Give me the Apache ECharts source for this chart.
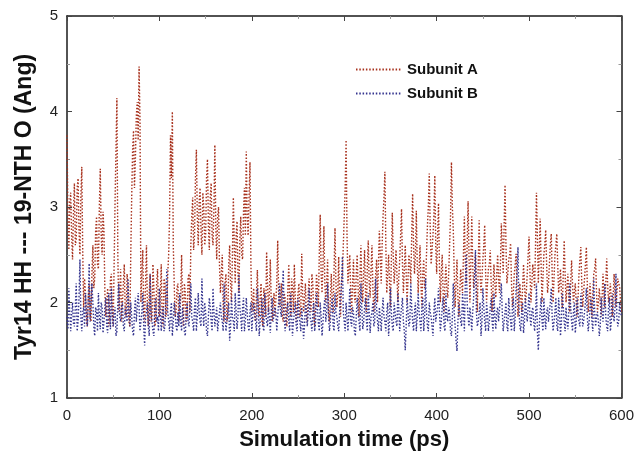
<!DOCTYPE html>
<html>
<head>
<meta charset="utf-8">
<script src="https://cdn.jsdelivr.net/npm/echarts@6/dist/echarts.min.js"></script>
<style>
html,body{margin:0;padding:0;background:#fff;}
#c{width:637px;height:456px;}
</style>
</head>
<body>
<div id="c"></div>
<script>
// sampling step of the trajectory (ps)
const timeStep = 1;
const xTicks = [0, 100, 200, 300, 400, 500, 600];
const yTicks = [1, 2, 3, 4, 5];
const seriesNames = ['Subunit A', 'Subunit B'];

// Subunit A distances (Ang), t = 0, 1, 2 ... 600 ps
const subunitA = [
3.75,2.9,2.55,3.05,3.15,2.7,2.45,2.95,3.25,2.6,2.65,3.2,3.3,2.75,2.5,3.1,3.42,2.55,1.95,2.25,
2.1,1.8,1.75,2.05,2.2,1.85,1.8,2.3,2.6,2.15,2.25,2.75,2.9,2.4,2.35,3.0,3.4,2.7,2.5,2.95,
2.75,2.1,1.85,2.0,2.15,1.75,1.8,2.25,2.3,1.9,1.75,2.4,3.05,3.6,4.14,2.5,1.9,2.1,2.35,1.8,
1.8,2.2,2.4,1.9,1.85,2.3,2.2,1.8,1.75,2.5,3.1,3.6,3.8,3.2,3.5,3.95,4.1,3.7,4.47,3.9,
2.0,2.3,2.55,1.9,1.8,2.2,2.6,1.95,1.75,2.1,2.3,1.8,1.85,2.4,2.15,1.75,1.8,2.2,2.35,1.9,
1.85,2.1,2.4,1.8,1.75,2.25,2.2,1.85,1.9,2.3,2.5,2.9,3.75,3.3,4.0,2.6,2.2,1.85,1.9,2.15,
2.2,1.8,1.8,2.05,2.5,2.0,1.75,2.2,2.1,1.8,1.85,2.25,2.3,1.9,2.6,2.9,3.1,2.55,2.7,3.3,
3.6,2.9,2.6,3.05,3.2,2.75,2.5,3.15,3.0,2.6,2.7,3.3,3.5,2.8,2.55,3.1,3.25,2.7,2.6,3.0,
3.65,2.8,2.45,2.9,3.0,2.4,2.1,2.3,2.5,1.95,1.8,2.2,2.3,1.8,1.85,2.4,2.6,2.2,2.0,2.5,
3.1,2.6,2.2,2.7,2.85,2.3,2.1,2.65,2.9,2.5,2.45,2.95,3.2,2.7,3.58,2.9,2.7,3.1,3.47,2.4,
1.9,2.0,2.15,1.85,1.8,2.1,2.34,1.95,1.85,2.05,2.2,1.8,1.75,2.15,2.05,1.85,2.53,2.2,1.9,2.1,
2.45,2.0,1.8,1.95,2.1,1.85,1.85,2.2,2.65,2.1,1.95,2.05,2.2,1.85,1.8,2.1,2.05,1.8,1.75,2.15,
2.4,2.0,1.85,2.25,2.15,1.9,2.4,2.05,1.8,1.95,2.1,2.2,1.85,1.9,2.51,2.1,1.9,2.05,2.2,1.85,
1.8,2.1,2.25,1.95,1.9,2.3,2.2,1.85,1.75,2.0,2.3,2.15,1.95,2.5,2.92,2.3,2.1,2.4,2.8,2.2,
2.0,2.2,2.45,1.9,1.8,2.05,2.3,2.0,1.9,2.35,2.78,2.2,1.95,2.1,2.48,2.0,1.85,2.2,2.3,2.6,
2.6,3.2,3.7,2.7,2.2,2.35,2.5,2.1,1.9,2.2,2.45,2.05,2.0,2.3,2.5,2.15,1.85,2.25,2.6,2.2,
2.0,2.3,2.55,2.1,1.9,2.4,2.65,2.2,2.05,2.35,2.6,2.15,1.9,2.1,2.3,2.45,2.0,2.4,2.75,2.5,
2.2,2.6,2.9,3.1,3.37,2.6,2.1,2.3,2.5,2.2,1.95,2.45,2.94,2.5,2.2,2.35,2.55,2.3,2.0,2.25,
2.45,2.7,2.98,2.4,2.1,2.35,2.6,2.3,2.0,2.25,2.5,2.4,2.2,2.7,3.14,2.6,2.3,2.5,2.96,2.4,
2.1,2.35,2.6,2.2,1.95,2.3,2.45,2.15,2.2,2.5,2.8,3.0,3.35,2.8,2.4,2.55,2.7,2.9,3.33,2.6,
2.3,2.7,3.04,2.4,2.0,2.3,2.5,2.1,1.9,2.2,2.4,2.15,2.05,2.3,2.6,2.9,3.47,3.0,2.76,2.3,
1.95,2.2,2.45,2.05,1.85,2.1,2.35,2.2,2.1,2.5,2.9,2.4,2.2,2.6,3.06,2.5,2.0,2.4,2.9,2.4,
2.15,2.3,2.5,2.2,1.9,2.4,2.86,2.3,2.1,2.25,2.45,2.6,2.81,2.3,2.0,2.2,2.35,2.4,2.55,2.2,
1.9,2.15,2.4,2.2,2.05,2.3,2.5,2.25,2.1,2.4,2.83,2.6,2.3,2.8,3.23,2.6,2.2,2.3,2.45,2.5,
2.62,2.2,1.95,2.1,2.3,2.4,2.51,2.1,1.85,2.0,2.2,2.05,1.9,2.15,2.4,2.2,2.0,2.1,2.3,2.5,
2.69,2.3,2.0,2.2,2.4,2.3,2.15,2.6,3.15,2.7,2.2,2.5,2.88,2.4,2.0,2.25,2.5,2.6,2.76,2.4,
2.1,2.2,2.4,2.6,2.72,2.3,2.0,2.25,2.5,2.6,2.72,2.4,2.1,2.2,2.35,2.1,1.95,2.3,2.65,2.3,
2.0,2.15,2.3,2.05,1.9,2.2,2.44,2.2,2.0,2.1,2.2,2.0,1.85,2.05,2.3,2.45,2.58,2.2,1.95,2.1,
2.25,2.4,2.58,2.2,1.9,2.05,2.2,2.0,1.85,2.1,2.3,2.35,2.46,2.1,1.9,2.0,2.15,2.0,1.85,2.05,
2.3,2.1,1.95,2.2,2.46,2.2,2.0,2.1,2.2,2.0,1.85,2.05,2.3,2.1,1.95,2.1,2.25,2.2,2.16,2.0,
1.9
];

// Subunit B distances (Ang), t = 0, 1, 2 ... 600 ps
const subunitB = [
1.85,1.72,2.15,1.9,1.7,1.88,2.0,1.78,1.75,1.95,2.2,1.7,1.8,2.05,2.45,1.85,1.7,1.9,1.95,1.75,
2.1,1.9,1.75,2.0,2.41,1.8,1.8,2.2,2.0,1.75,1.65,1.95,1.9,1.7,2.1,1.85,1.72,2.0,1.95,1.68,
1.8,1.95,2.05,1.75,1.68,2.1,1.9,1.72,2.15,1.85,1.75,1.9,1.95,1.65,1.7,2.0,2.2,1.85,1.8,1.95,
2.0,1.75,1.7,1.95,1.9,1.8,2.25,1.9,1.75,2.0,1.85,1.7,1.65,1.9,2.05,1.8,1.8,2.1,1.95,1.7,
1.7,1.9,2.1,1.75,1.55,1.85,1.9,2.0,1.75,1.65,2.3,1.9,1.8,1.7,1.65,1.95,2.05,1.8,1.85,1.7,
2.15,1.9,1.7,1.85,1.95,1.7,1.75,2.05,2.35,1.9,1.8,1.7,1.9,2.0,1.65,1.8,2.0,1.9,1.75,1.7,
1.9,1.75,2.1,1.8,1.7,1.95,1.85,1.7,1.65,1.9,2.0,1.8,1.75,1.95,2.2,1.85,1.8,1.7,1.95,2.05,
1.7,1.85,2.1,1.9,1.8,1.75,2.25,1.9,1.75,2.0,1.9,1.7,1.65,1.85,2.05,1.95,1.8,1.7,2.15,1.9,
1.75,1.85,1.95,1.7,1.7,1.9,2.0,1.85,1.8,1.7,2.2,1.9,1.7,1.8,1.9,2.0,1.6,1.75,2.05,1.85,
1.8,1.7,2.1,1.9,1.72,1.85,2.3,1.95,1.85,1.7,1.95,2.05,1.7,1.8,2.05,1.9,1.75,1.7,1.9,2.0,
1.7,1.85,2.0,1.9,1.8,1.7,2.15,1.95,1.65,1.8,1.9,2.05,1.75,1.7,2.1,1.9,1.8,1.75,1.95,1.85,
1.68,1.9,2.05,1.8,1.8,1.95,1.9,1.7,1.72,2.0,2.2,1.9,1.85,2.1,2.34,1.85,1.7,1.8,1.95,2.0,
1.8,1.7,2.1,1.9,1.65,1.8,1.9,2.0,1.75,1.7,2.05,1.85,1.8,1.7,1.95,1.8,1.62,1.75,2.0,1.9,
1.75,1.9,2.15,1.85,1.8,1.7,1.9,2.0,1.7,1.8,2.1,1.95,1.78,1.7,2.0,1.85,1.65,1.8,1.95,2.05,
1.8,1.9,2.2,1.85,1.7,1.8,1.95,2.05,1.75,1.7,2.1,1.9,1.85,1.75,1.7,1.9,2.05,2.2,2.48,1.9,
1.8,1.7,2.0,1.85,1.7,1.9,2.15,1.8,1.75,1.95,1.9,1.7,1.65,1.85,2.05,1.9,1.8,1.7,2.2,1.95,
1.72,1.8,1.95,2.05,1.8,1.7,2.1,1.9,1.68,1.85,1.9,2.0,1.75,1.8,2.25,1.95,1.8,1.7,1.95,1.85,
1.7,1.9,2.05,1.85,1.8,1.7,1.9,2.0,1.65,1.8,2.15,1.9,1.75,1.7,2.0,1.9,1.8,1.75,2.1,1.95,
1.7,1.85,1.95,2.05,1.8,1.7,1.5,1.75,2.05,1.9,1.75,1.8,2.2,1.95,1.8,1.7,1.9,2.0,1.7,1.85,
2.1,1.9,1.8,1.7,1.95,2.05,1.7,1.85,2.25,1.9,1.75,1.7,2.0,1.9,1.85,1.75,1.65,1.9,2.05,1.8,
1.8,1.95,2.15,1.9,1.7,1.8,1.95,2.05,1.75,1.7,2.1,1.85,1.8,1.95,1.9,1.7,1.65,1.85,2.2,1.9,
1.75,1.6,1.49,1.8,2.0,1.9,1.8,1.75,2.1,1.95,1.7,2.2,2.51,2.0,1.85,1.75,1.95,1.85,1.7,1.9,
2.05,2.3,2.55,1.9,1.75,1.8,1.9,2.0,1.65,1.8,2.15,1.95,1.8,1.7,2.0,1.9,1.7,1.8,1.95,2.05,
1.8,1.7,2.1,1.85,1.72,1.9,1.95,1.8,1.8,2.05,2.2,1.9,1.7,1.8,1.9,2.0,1.75,1.7,2.05,1.9,
1.8,1.7,1.95,2.05,1.7,1.85,2.15,2.3,2.58,1.95,1.75,1.7,1.9,2.0,1.68,1.8,2.05,1.9,1.8,1.95,
2.1,1.85,1.75,1.9,1.95,1.8,1.7,1.85,2.2,1.7,1.5,1.75,1.9,2.05,1.8,1.7,2.05,1.85,1.72,1.9,
1.95,1.8,1.8,2.0,2.15,1.85,1.7,1.8,1.9,2.05,1.75,1.7,2.05,1.9,1.65,1.8,2.1,1.95,1.8,1.7,
1.95,1.8,1.72,1.9,2.2,1.95,1.8,1.7,1.9,2.0,1.68,1.8,2.05,1.9,1.8,1.75,2.1,1.95,1.75,1.8,
1.9,2.0,2.15,1.85,1.7,1.8,1.95,2.05,1.8,1.7,2.25,1.9,1.75,1.85,1.9,1.8,1.65,1.75,2.05,1.9,
1.8,1.95,2.2,1.85,1.75,1.7,1.95,2.05,1.7,1.8,2.1,1.9,1.8,1.95,2.3,1.85,1.75,1.8,2.0,1.9,
1.85
];

const pairs = arr => arr.map((v, i) => [i * timeStep, v]);

const FONT = '"Liberation Sans", Arial, sans-serif';
const axisCommon = {
  type: 'value',
  axisLine: { show: true, onZero: false, lineStyle: { color: '#1a1a1a', width: 1.5 } },
  axisTick: { show: true, inside: true, length: 5, lineStyle: { color: '#444', width: 1 } },
  minorTick: { show: true, splitNumber: 2, length: 3, lineStyle: { color: '#999', width: 1 } },
  splitLine: { show: false }
};

const chart = echarts.init(document.getElementById('c'), null, { renderer: 'canvas' });
chart.setOption({
  animation: false,
  backgroundColor: '#fff',
  grid: { left: 67, right: 15, top: 16, bottom: 58, containLabel: false },
  legend: {
    show: true,
    orient: 'vertical',
    left: 350,
    top: 57,
    itemWidth: 46,
    itemHeight: 10,
    itemGap: 9,
    data: seriesNames,
    itemStyle: { opacity: 0 },
    textStyle: { fontFamily: FONT, fontWeight: 'bold', fontSize: 15, color: '#111' }
  },
  xAxis: [
    Object.assign({}, axisCommon, {
      min: xTicks[0], max: xTicks[xTicks.length - 1], interval: 100,
      position: 'bottom',
      axisLabel: { show: true, fontFamily: FONT, fontSize: 15, color: '#222', margin: 10 },
      name: 'Simulation time (ps)',
      nameLocation: 'middle',
      nameGap: 31,
      nameTextStyle: { fontFamily: FONT, fontWeight: 'bold', fontSize: 22, color: '#111' }
    }),
    Object.assign({}, axisCommon, {
      min: xTicks[0], max: xTicks[xTicks.length - 1], interval: 100,
      position: 'top',
      axisLabel: { show: false }
    })
  ],
  yAxis: [
    Object.assign({}, axisCommon, {
      min: yTicks[0], max: yTicks[yTicks.length - 1], interval: 1,
      position: 'left',
      axisLabel: { show: true, fontFamily: FONT, fontSize: 15, color: '#222', margin: 9 },
      name: 'Tyr14 HH --- 19-NTH O (Ang)',
      nameLocation: 'middle',
      nameGap: 31,
      nameTextStyle: { fontFamily: FONT, fontWeight: 'bold', fontSize: 23, color: '#111' }
    }),
    Object.assign({}, axisCommon, {
      min: yTicks[0], max: yTicks[yTicks.length - 1], interval: 1,
      position: 'right',
      axisLabel: { show: false }
    })
  ],
  series: [
    {
      name: seriesNames[0], type: 'line', symbol: 'none', showSymbol: false,
      xAxisIndex: 0, yAxisIndex: 0,
      data: pairs(subunitA),
      lineStyle: { color: '#a8321e', width: 1.4, type: [1.5, 1.8] },
      itemStyle: { color: '#a8321e' }
    },
    {
      name: seriesNames[1], type: 'line', symbol: 'none', showSymbol: false,
      xAxisIndex: 0, yAxisIndex: 0,
      data: pairs(subunitB),
      lineStyle: { color: '#35358f', width: 1.4, type: [1.5, 1.8] },
      itemStyle: { color: '#35358f' }
    }
  ]
});
</script>
</body>
</html>
